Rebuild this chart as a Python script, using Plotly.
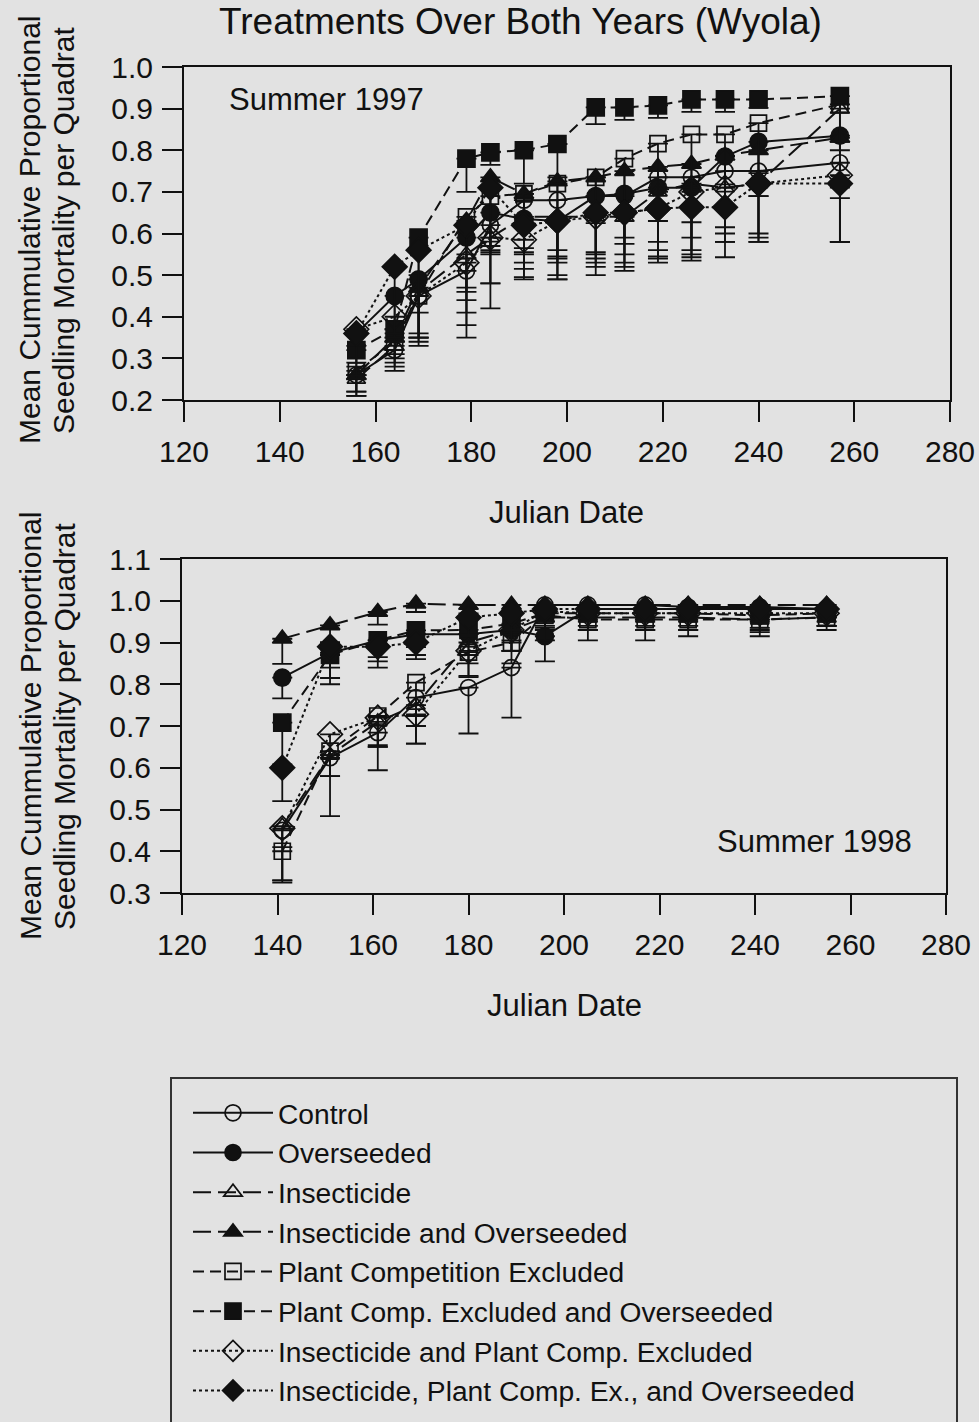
import plotly.graph_objects as go

# ---------------- data ----------------
series_names = [
    "Control",
    "Overseeded",
    "Insecticide",
    "Insecticide and Overseeded",
    "Plant Competition Excluded",
    "Plant Comp. Excluded and Overseeded",
    "Insecticide and Plant Comp. Excluded",
    "Insecticide, Plant Comp. Ex., and Overseeded",
]

days_1997 = [156, 164, 169, 179, 184, 191, 198, 206, 212, 219, 226, 233, 240, 257]
control_1997 = [0.26, 0.32, 0.45, 0.51, 0.62, 0.68, 0.68, 0.69, 0.69, 0.735, 0.735, 0.75, 0.75, 0.77]
overseeded_1997 = [0.36, 0.45, 0.49, 0.59, 0.65, 0.635, 0.63, 0.69, 0.695, 0.71, 0.71, 0.785, 0.82, 0.835]
insecticide_1997 = [0.25, 0.33, 0.46, 0.55, 0.59, 0.64, 0.64, 0.64, 0.64, 0.70, 0.72, 0.71, 0.72, 0.90]
ins_over_1997 = [0.26, 0.35, 0.47, 0.63, 0.735, 0.695, 0.725, 0.735, 0.75, 0.76, 0.767, 0.787, 0.80, 0.83]
pce_1997 = [0.27, 0.34, 0.45, 0.64, 0.69, 0.695, 0.72, 0.735, 0.78, 0.816, 0.838, 0.838, 0.865, 0.91]
pce_over_1997 = [0.32, 0.37, 0.59, 0.78, 0.795, 0.80, 0.815, 0.903, 0.903, 0.908, 0.922, 0.922, 0.922, 0.93]
ins_pce_1997 = [0.37, 0.40, 0.45, 0.53, 0.59, 0.585, 0.63, 0.64, 0.65, 0.66, 0.70, 0.71, 0.72, 0.74]
ins_pce_over_1997 = [0.36, 0.52, 0.56, 0.62, 0.71, 0.62, 0.63, 0.65, 0.65, 0.66, 0.663, 0.663, 0.72, 0.72]

err_1997 = [
    [0.04, 0.05, 0.10, 0.16, 0.20, 0.19, 0.19, 0.19, 0.18, 0.19, 0.20, 0.17, 0.17, 0.19],
    [0.08, 0.08, 0.15, 0.12, 0.10, 0.14, 0.14, 0.14, 0.12, 0.13, 0.12, 0.17, 0.13, 0.15],
    [0.04, 0.04, 0.13, 0.14, 0.11, 0.09, 0.14, 0.10, 0.12, 0.14, 0.17, 0.13, 0.12, 0.10],
    [0.05, 0.05, 0.12, 0.17, 0.18, 0.13, 0.18, 0.18, 0.16, 0.13, 0.14, 0.12, 0.11, 0.12],
    [0.05, 0.06, 0.10, 0.10, 0.13, 0.14, 0.16, 0.11, 0.15, 0.16, 0.17, 0.12, 0.12, 0.09],
    [0.06, 0.06, 0.09, 0.08, 0.03, 0.08, 0.08, 0.04, 0.03, 0.03, 0.03, 0.03, 0.02, 0.04],
    [0.04, 0.05, 0.09, 0.15, 0.11, 0.07, 0.10, 0.12, 0.10, 0.12, 0.14, 0.11, 0.13, 0.16],
    [0.07, 0.16, 0.15, 0.18, 0.14, 0.09, 0.09, 0.12, 0.12, 0.13, 0.12, 0.12, 0.14, 0.14],
]

days_1998 = [141, 151, 161, 169, 180, 189, 196, 205, 217, 226, 241, 255]
control_1998 = [0.45, 0.624, 0.684, 0.768, 0.792, 0.84, 0.99, 0.99, 0.99, 0.985, 0.985, 0.98]
overseeded_1998 = [0.816, 0.875, 0.905, 0.92, 0.92, 0.93, 0.915, 0.98, 0.98, 0.98, 0.98, 0.98]
insecticide_1998 = [0.46, 0.63, 0.71, 0.75, 0.90, 0.93, 0.96, 0.96, 0.96, 0.96, 0.955, 0.96]
ins_over_1998 = [0.909, 0.941, 0.973, 0.993, 0.99, 0.99, 0.99, 0.99, 0.99, 0.99, 0.99, 0.99]
pce_1998 = [0.40, 0.64, 0.724, 0.804, 0.877, 0.90, 0.965, 0.955, 0.955, 0.955, 0.955, 0.96]
pce_over_1998 = [0.708, 0.87, 0.905, 0.929, 0.93, 0.945, 0.97, 0.97, 0.97, 0.97, 0.965, 0.97]
ins_pce_1998 = [0.455, 0.68, 0.72, 0.728, 0.88, 0.93, 0.975, 0.97, 0.97, 0.97, 0.97, 0.97]
ins_pce_over_1998 = [0.60, 0.89, 0.89, 0.90, 0.96, 0.97, 0.98, 0.98, 0.98, 0.98, 0.98, 0.98]

err_1998 = [
    [0.12, 0.14, 0.09, 0.11, 0.11, 0.12, 0.02, 0.02, 0.02, 0.02, 0.02, 0.02],
    [0.05, 0.06, 0.05, 0.05, 0.05, 0.05, 0.06, 0.02, 0.02, 0.02, 0.02, 0.02],
    [0.05, 0.05, 0.06, 0.05, 0.05, 0.05, 0.03, 0.03, 0.03, 0.03, 0.03, 0.02],
    [0.06, 0.04, 0.03, 0.02, 0.02, 0.02, 0.02, 0.02, 0.02, 0.02, 0.02, 0.02],
    [0.07, 0.06, 0.07, 0.08, 0.06, 0.05, 0.06, 0.05, 0.05, 0.04, 0.04, 0.03],
    [0.10, 0.07, 0.04, 0.04, 0.04, 0.04, 0.03, 0.03, 0.03, 0.03, 0.03, 0.03],
    [0.13, 0.05, 0.07, 0.07, 0.06, 0.05, 0.04, 0.04, 0.04, 0.04, 0.04, 0.03],
    [0.08, 0.05, 0.05, 0.04, 0.04, 0.04, 0.03, 0.03, 0.03, 0.03, 0.03, 0.03],
]

values_1997 = [control_1997, overseeded_1997, insecticide_1997, ins_over_1997,
               pce_1997, pce_over_1997, ins_pce_1997, ins_pce_over_1997]
values_1998 = [control_1998, overseeded_1998, insecticide_1998, ins_over_1998,
               pce_1998, pce_over_1998, ins_pce_1998, ins_pce_over_1998]

y_ticks_1997 = [0.2, 0.3, 0.4, 0.5, 0.6, 0.7, 0.8, 0.9, 1.0]
y_ticks_1998 = [0.3, 0.4, 0.5, 0.6, 0.7, 0.8, 0.9, 1.0, 1.1]
x_ticks = [120, 140, 160, 180, 200, 220, 240, 260, 280]

# ---------------- styles ----------------
INK = "#111111"
BG = "#e2e2e2"
FONT = "Liberation Sans, Arial, sans-serif"

symbols = ["circle-open", "circle", "triangle-up-open", "triangle-up",
           "square-open", "square", "diamond-open", "diamond"]
sizes = [16, 17, 16, 17, 16, 17, 19, 19]
dashes = ["solid", "solid", "18px,7px", "18px,7px",
          "11px,6px", "11px,6px", "dot", "dot"]

fig = go.Figure()

for yr, (days, vals, errs, xa, ya) in enumerate([
        (days_1997, values_1997, err_1997, "x", "y"),
        (days_1998, values_1998, err_1998, "x2", "y2")]):
    for i, name in enumerate(series_names):
        fig.add_trace(go.Scatter(
            x=days, y=vals[i], name=name, legendgroup=name,
            showlegend=(yr == 0), xaxis=xa, yaxis=ya,
            mode="lines+markers",
            line=dict(color=INK, width=2, dash=dashes[i]),
            marker=dict(symbol=symbols[i], size=sizes[i], color=INK,
                        line=dict(color=INK, width=1.7)),
            error_y=dict(type="data", symmetric=False,
                         array=[0] * len(days), arrayminus=errs[i],
                         color=INK, thickness=1.8, width=10),
        ))

W, H = 979, 1422

def px_x(p):
    return p / W

def px_y(p):
    return 1 - p / H

axis_common = dict(
    showline=True, linecolor=INK, linewidth=2, mirror=True,
    ticks="outside", tickcolor=INK, tickwidth=2, ticklen=20,
    showgrid=False, zeroline=False, automargin=False,
    tickfont=dict(family=FONT, size=30, color=INK),
)

fig.update_layout(
    template="none",
    width=W, height=H,
    margin=dict(l=0, r=0, t=0, b=0, pad=0, autoexpand=False),
    paper_bgcolor=BG, plot_bgcolor=BG,
    font=dict(family=FONT, color=INK),
    showlegend=True,
    xaxis=dict(domain=[px_x(184), px_x(950)], range=[120, 280],
               tickvals=x_ticks, anchor="y", ticklabelstandoff=4, **axis_common),
    yaxis=dict(domain=[px_y(400), px_y(67)], range=[0.2, 1.0],
               tickvals=y_ticks_1997, tickformat=".1f", anchor="x",
               ticklabelstandoff=3, **axis_common),
    xaxis2=dict(domain=[px_x(182), px_x(946)], range=[120, 280],
                tickvals=x_ticks, anchor="y2", ticklabelstandoff=4, **axis_common),
    yaxis2=dict(domain=[px_y(893), px_y(559)], range=[0.3, 1.1],
                tickvals=y_ticks_1998, tickformat=".1f", anchor="x2",
                ticklabelstandoff=3, **axis_common),
    legend=dict(
        x=px_x(188), y=px_y(1088), xanchor="left", yanchor="top",
        bgcolor="rgba(0,0,0,0)", borderwidth=0,
        font=dict(family=FONT, size=28.2, color=INK),
        itemwidth=80, tracegroupgap=0,
    ),
)

# legend frame
fig.add_shape(type="rect", xref="paper", yref="paper",
              x0=px_x(171), x1=px_x(957), y0=px_y(1440), y1=px_y(1078),
              line=dict(color="#333", width=2), fillcolor="rgba(0,0,0,0)")

ann = []
ann.append(dict(text="Treatments Over Both Years (Wyola)", x=px_x(520), y=px_y(22),
                font=dict(size=37)))
ann.append(dict(text="Summer 1997", x=px_x(326), y=px_y(100), font=dict(size=31)))
ann.append(dict(text="Summer 1998", x=px_x(814), y=px_y(842), font=dict(size=31)))
ann.append(dict(text="Julian Date", x=px_x(566), y=px_y(512), font=dict(size=31)))
ann.append(dict(text="Julian Date", x=px_x(564), y=px_y(1005), font=dict(size=31)))
for cy in (230, 726):
    ann.append(dict(text="Mean Cummulative Proportional", x=px_x(30), y=px_y(cy),
                    textangle=-90, font=dict(size=30)))
    ann.append(dict(text="Seedling Mortality per Quadrat", x=px_x(64), y=px_y(cy),
                    textangle=-90, font=dict(size=30)))

for a in ann:
    a.update(xref="paper", yref="paper", showarrow=False,
             xanchor="center", yanchor="middle")
    a["font"].update(family=FONT, color=INK)
fig.update_layout(annotations=ann)

fig.write_html("out.html")
